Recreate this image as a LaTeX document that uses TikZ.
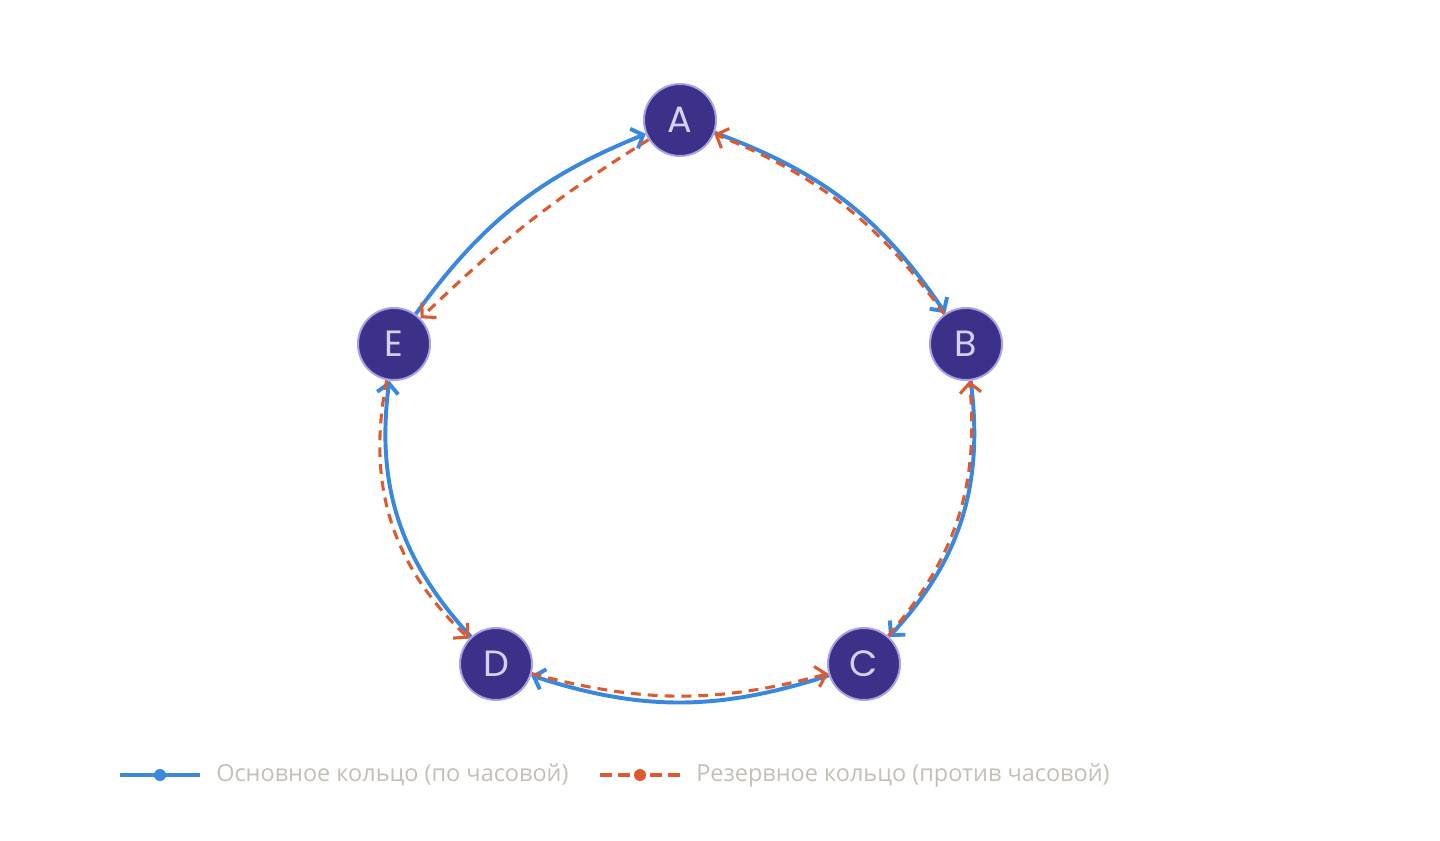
\documentclass[tikz,border=0pt]{standalone}
\usepackage{fontspec}
\setmainfont{Open Sans}
\newfontfamily\poppins{Poppins}
\usetikzlibrary{arrows.meta,backgrounds}
\definecolor{ringblue}{HTML}{3A88DE}
\definecolor{ringorange}{HTML}{DE5A2E}
\definecolor{nodefill}{HTML}{3B3189}
\definecolor{nodeborder}{HTML}{A99FE6}
\definecolor{nodetext}{HTML}{D6D0F7}
\definecolor{legendtext}{HTML}{C3BFB5}
\tikzset{
  station/.style={shape=circle,draw=nodeborder,line width=1.4pt,fill=nodefill,
    text=nodetext,minimum size=1.8cm,inner sep=0pt,font=\poppins\fontsize{26}{30}\selectfont},
  mainring/.style={draw=ringblue,line width=2.8pt},
  backupring/.style={draw=ringorange,line width=2.2pt,dash pattern=on 7pt off 5pt},
  legendtext/.style={text=legendtext,anchor=west,inner sep=0pt,font=\fontsize{16.7}{20}\selectfont},
  >={Straight Barb[length=7pt,width=15pt]}
}
\begin{document}
\begin{tikzpicture}
\useasboundingbox (0,0) rectangle (36,21);
\node(A) at (17,18)[station]      {A};
\node(B) at (24.15,12.4)[station] {B};
\node(C) at (21.6,4.4)[station]   {C};
\node(D) at (12.4,4.4)[station]   {D};
\node(E) at (9.85,12.4)[station]  {E};
\begin{scope}[on background layer]
\path [->]
  (E) edge [mainring, bend left=16]    (A)
  (A) edge [mainring, bend left=18]    (B)
  (B) edge [mainring, bend left=25]    (C)
  (C) edge [mainring, bend left=18]    (D)
  (D) edge [mainring, bend left=25]    (E)
  (A) edge [backupring, bend right=6]  (E)
  (B) edge [backupring, bend right=16] (A)
  (C) edge [backupring, bend right=23] (B)
  (D) edge [backupring, bend right=15] (C)
  (E) edge [backupring, bend right=29] (D);
\end{scope}
% legend
\coordinate(m0) at (3,1.625);
\coordinate(m1) at (4,1.625);
\coordinate(m2) at (5,1.625);
\coordinate(r0) at (15,1.625);
\coordinate(r1) at (16,1.625);
\coordinate(r2) at (17,1.625);
\draw [mainring] (m0) -- (m2);
\fill [ringblue] (m1) circle (0.15);
\draw [backupring,dash pattern=on 0.3cm off 0.15cm on 0.3cm off 0.5cm] (r0) -- (r2);
\fill [ringorange] (r1) circle (0.15);
\node(mainlabel) at (5.4,1.625)[legendtext]   {Основное кольцо (по часовой)};
\node(backuplabel) at (17.4,1.625)[legendtext] {Резервное кольцо (против часовой)};
\end{tikzpicture}
\end{document}
